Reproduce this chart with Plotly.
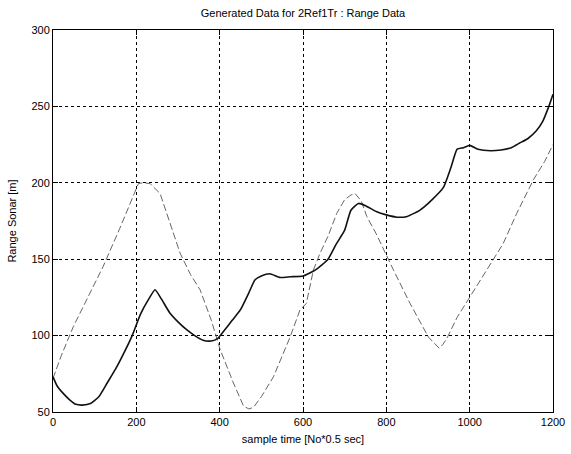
import plotly.graph_objects as go

solid_x = [0, 10, 25, 40, 55, 70, 90, 110, 130, 150, 170, 190, 210, 230, 245, 260, 280, 300, 320, 340, 360, 380, 395, 410, 430, 450, 470, 485, 500, 520, 545, 570, 600, 630, 660, 680, 700, 715, 733, 750, 777, 800, 825, 850, 880, 910, 937, 955, 970, 985, 1000, 1020, 1050, 1075, 1100, 1120, 1140, 1160, 1175, 1190, 1200]
solid_y = [73, 67, 62, 58, 55, 54.5, 55.5, 60, 69, 78, 88.5, 100, 114, 124, 130, 124, 115, 109, 104, 100, 97, 96.5, 98, 103, 110, 117, 128, 136.5, 139, 140.5, 138, 138.5, 139, 143, 150, 160, 169, 182, 186.5, 185, 181, 179, 177.5, 178, 182, 189, 197, 210, 222, 223, 224.5, 222, 221, 221.5, 223, 226, 229, 234, 240, 250, 258]

dash_x = [0, 20, 49, 89, 120, 160, 190, 205, 215, 233, 257, 280, 305, 330, 353, 380, 401, 433, 457, 470, 481, 500, 529, 569, 593, 608, 625, 641, 660, 681, 700, 715, 725, 740, 753, 775, 801, 817, 857, 901, 927, 935, 945, 970, 1001, 1030, 1057, 1080, 1113, 1153, 1180, 1200]
dash_y = [72, 87, 106, 128, 145, 170, 190, 199.5, 200, 199.5, 193, 175, 154, 140, 130, 110, 91, 69, 54, 52, 53, 60, 73, 99, 117, 121, 143, 154, 165, 180, 189, 192, 193, 188, 178, 167, 152, 143, 121, 99, 91.7, 94, 98, 112, 125.5, 138, 149.5, 160, 180, 202, 214, 225]

x_ticks = [0, 200, 400, 600, 800, 1000, 1200]
y_ticks = [50, 100, 150, 200, 250, 300]

FONT = dict(family="Liberation Sans", size=11, color="black")

fig = go.Figure()
fig.add_trace(go.Scatter(x=dash_x, y=dash_y, mode="lines",
                         line=dict(color="#666666", width=1, dash="7px,3px"),
                         showlegend=False, hoverinfo="skip"))
fig.add_trace(go.Scatter(x=solid_x, y=solid_y, mode="lines",
                         line=dict(color="#111111", width=1.6, shape="spline", smoothing=0.5),
                         showlegend=False, hoverinfo="skip"))

axis_common = dict(
    showline=True, linecolor="black", linewidth=1, mirror="ticks",
    ticks="inside", ticklen=5, tickcolor="black",
    showgrid=True, gridcolor="black", gridwidth=1, griddash="3px,3px",
    zeroline=False, tickfont=FONT, automargin=False,
)

fig.update_xaxes(range=[0, 1200], tickvals=x_ticks, ticktext=[str(v) for v in x_ticks],
                 title=dict(text="sample time [No*0.5 sec]", standoff=8, font=FONT),
                 **axis_common)
fig.update_yaxes(range=[50, 300], tickvals=y_ticks, ticktext=[str(v) for v in y_ticks],
                 title=dict(text="Range Sonar [m]", standoff=12, font=FONT),
                 **axis_common)

fig.update_layout(
    width=571, height=454,
    margin=dict(l=53, r=18, t=30, b=42),
    paper_bgcolor="white", plot_bgcolor="white",
    title=dict(text="Generated Data for 2Ref1Tr : Range Data", x=303/571, xanchor="center",
               y=1 - 13/454, yanchor="middle", font=FONT),
)

fig.write_html("out.html", config={"displayModeBar": False},
               post_script="document.body.style.margin='0';document.body.style.overflow='hidden';")
